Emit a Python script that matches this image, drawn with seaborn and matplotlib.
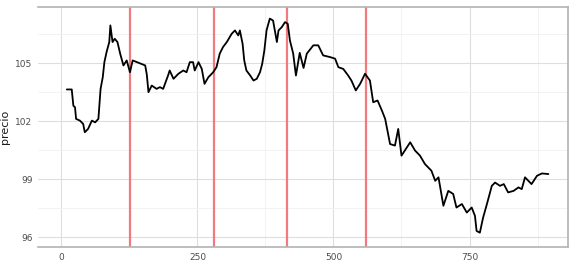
import pandas as pd
import seaborn as sns
import matplotlib.pyplot as plt
from matplotlib.ticker import MultipleLocator

# valores
tiempo = [10, 19, 22, 25, 27, 34, 40, 43, 49, 56, 62, 68, 72, 76, 79, 83, 88, 90, 94, 98,
          103, 108, 114, 120, 126, 131, 139, 154, 157, 160, 166, 175, 181, 187, 196, 199,
          206, 215, 224, 230, 236, 242, 245, 252, 258, 263, 270, 279, 285, 291, 297, 304,
          313, 319, 325, 328, 333, 336, 340, 347, 353, 359, 365, 369, 373, 377, 383, 389,
          396, 399, 405, 411, 416, 420, 426, 431, 438, 445, 451, 463, 472, 481, 494, 503,
          509, 518, 527, 533, 541, 549, 558, 567, 573, 581, 589, 595, 604, 613, 619, 625,
          631, 641, 650, 659, 668, 680, 687, 693, 702, 711, 720, 726, 736, 745, 754, 760,
          763, 769, 775, 782, 791, 797, 806, 813, 821, 831, 840, 846, 852, 864, 874, 883, 895]
precio = [103.64, 103.64, 102.8, 102.72, 102.12, 102.03, 101.86, 101.43, 101.6, 102.03,
          101.94, 102.12, 103.67, 104.27, 105.05, 105.57, 106.09, 106.95, 106.09, 106.26,
          106.09, 105.49, 104.88, 105.14, 104.53, 105.14, 105.05, 104.88, 104.4, 103.5,
          103.84, 103.67, 103.76, 103.67, 104.36, 104.62, 104.19, 104.45, 104.62, 104.53,
          105.05, 105.05, 104.62, 105.05, 104.7, 103.93, 104.27, 104.53, 104.79, 105.49,
          105.83, 106.09, 106.52, 106.69, 106.43, 106.69, 106.0, 105.14, 104.62, 104.36,
          104.1, 104.19, 104.53, 104.96, 105.66, 106.69, 107.3, 107.2, 106.09, 106.69,
          106.86, 107.12, 107.03, 106.17, 105.49, 104.36, 105.53, 104.75, 105.49, 105.92,
          105.92, 105.4, 105.31, 105.23, 104.79, 104.7, 104.36, 104.1, 103.59, 103.93,
          104.45, 104.1, 102.98, 103.07, 102.55, 102.12, 100.82, 100.74, 101.6, 100.22,
          100.48, 100.91, 100.48, 100.22, 99.79, 99.44, 98.92, 99.1, 97.63, 98.4,
          98.24, 97.54, 97.72, 97.28, 97.54, 97.11, 96.33, 96.24, 97.02, 97.72,
          98.66, 98.83, 98.66, 98.75, 98.32, 98.4, 98.58, 98.49, 99.1, 98.75,
          99.18, 99.3, 99.27]
cambios = [126, 280, 415, 559]

df = pd.DataFrame({"t": tiempo, "precio": precio})

sns.set_theme(style="white")
fig = plt.figure(figsize=(5.8, 2.73), dpi=100)
ax = fig.add_axes([38 / 580, 26 / 273, 530 / 580, 240 / 273])

ax.xaxis.set_major_locator(MultipleLocator(250))
ax.xaxis.set_minor_locator(MultipleLocator(125))
ax.yaxis.set_major_locator(MultipleLocator(3))
ax.yaxis.set_minor_locator(MultipleLocator(1.5))
ax.grid(which="major", color="#dedede", lw=0.8)
ax.grid(which="minor", color="#f0f0f0", lw=0.6)
ax.set_axisbelow(True)

for c in cambios:
    ax.axvline(c, color="#f07a7e", lw=1.6, zorder=2)

sns.lineplot(data=df, x="t", y="precio", color="black", lw=1.3, ax=ax, zorder=3)

ax.set_xlim(-43, 931)
ax.set_ylim(95.5, 107.9)
ax.set_xlabel("")
ax.set_ylabel("precio", fontsize=8, color="#1a1a1a", labelpad=4)
ax.tick_params(axis="both", which="both", length=0, labelsize=6.5, colors="#4d4d4d", pad=4)

for side in ["top", "bottom", "right"]:
    ax.spines[side].set_color("#b3b3b3")
    ax.spines[side].set_linewidth(1.2)
ax.spines["left"].set_visible(False)

plt.savefig("out.png", dpi=100)
